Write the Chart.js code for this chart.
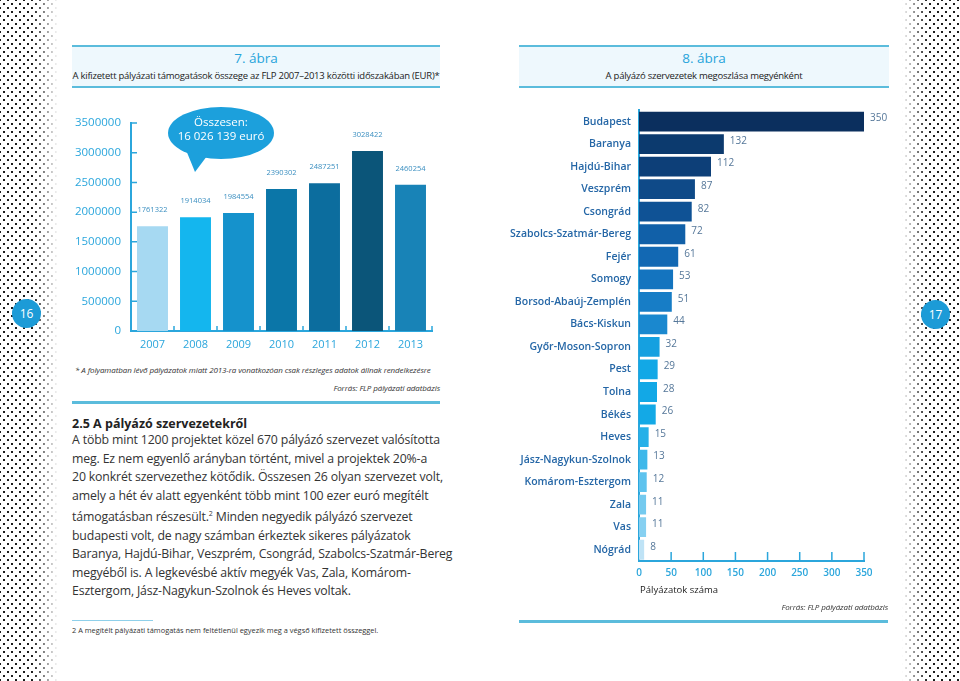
<!DOCTYPE html>
<html lang="hu">
<head>
<meta charset="utf-8">
<title>7. és 8. ábra</title>
<script src="https://cdn.jsdelivr.net/npm/chart.js@4.4.1/dist/chart.umd.min.js"></script>
<style>
  body { margin: 0; width: 960px; height: 681px; position: relative; overflow: hidden; background: #fff; font-family: 'Open Sans', sans-serif; color: #222; }
  .pottyok { position: absolute; top: 0; height: 681px; width: 58px;
    background-image: radial-gradient(circle, #1b1b1b 0.9px, transparent 1.3px), radial-gradient(circle, #1b1b1b 0.9px, transparent 1.3px);
    background-size: 8px 8px; background-position: 0 0, 4px 4px; }
  .pottyok.bal { left: 0; -webkit-mask-image: linear-gradient(to right, #000 55%, transparent 100%); mask-image: linear-gradient(to right, #000 55%, transparent 100%); }
  .pottyok.jobb { right: 0; -webkit-mask-image: linear-gradient(to left, #000 55%, transparent 100%); mask-image: linear-gradient(to left, #000 55%, transparent 100%); }
  .oldalszam { position: absolute; width: 29px; height: 29px; border-radius: 50%; background: #1c9bd7; color: #fff; font-size: 12px; line-height: 29px; text-align: center; }
  .fejlec { position: absolute; height: 39px; background: #eef8fd; border-top: 2.5px solid #5bbcdc; border-bottom: 2.5px solid #5bbcdc; text-align: center; }
  .fejlec .abra { color: #27a4db; font-size: 13.5px; line-height: 16px; margin-top: 3px; }
  .fejlec .alcim { font-size: 9.5px; line-height: 13px; margin-top: 3px; white-space: nowrap; letter-spacing: -0.25px; }
  .doboz { position: absolute; }
  .kisdolt { position: absolute; font-style: italic; font-size: 8px; color: #333; white-space: nowrap; letter-spacing: -0.1px; }
  .vonal { position: absolute; height: 2.5px; background: #5bbcdc; }
  .cimsor { position: absolute; left: 72px; top: 415px; font-weight: bold; font-size: 12.5px; white-space: nowrap; }
  .szoveg { position: absolute; left: 72px; top: 431px; font-size: 12.3px; line-height: 18.5px; color: #333; white-space: nowrap; letter-spacing: -0.15px; }
  .labjegyzet { position: absolute; left: 72px; top: 625px; font-size: 7.4px; color: #333; white-space: nowrap; }
</style>
</head>
<body>
<div class="pottyok bal"></div>
<div class="pottyok jobb"></div>
<div class="oldalszam" style="left:12px;top:299px">16</div>
<div class="oldalszam" style="left:921px;top:300px">17</div>

<div class="fejlec" style="left:72px;top:45px;width:368px">
  <div class="abra">7. ábra</div>
  <div class="alcim">A kifizetett pályázati támogatások összege az FLP 2007–2013 közötti időszakában (EUR)*</div>
</div>
<div class="fejlec" style="left:519px;top:45px;width:370px">
  <div class="abra">8. ábra</div>
  <div class="alcim">A pályázó szervezetek megoszlása megyénként</div>
</div>

<div class="doboz" style="left:60px;top:100px;width:390px;height:262px"><canvas id="grafikEvek"></canvas></div>
<svg style="position:absolute;left:160px;top:104px" width="120" height="72">
  <ellipse cx="61" cy="29" rx="53" ry="26" fill="#1ca0dc"/>
  <path d="M26 46 L35 68 L47 52 Z" fill="#1ca0dc"/>
  <text x="61" y="22" fill="#fff" font-family="Open Sans, sans-serif" font-size="11.5" text-anchor="middle">Összesen:</text>
  <text x="61" y="36" fill="#fff" font-family="Open Sans, sans-serif" font-size="11.5" text-anchor="middle">16 026 139 euró</text>
</svg>

<div class="kisdolt" style="left:75px;top:364px">* A folyamatban lévő pályázatok miatt 2013-ra vonatkozóan csak részleges adatok állnak rendelkezésre</div>
<div class="kisdolt" style="right:520px;top:382px">Forrás: FLP pályázati adatbázis</div>
<div class="vonal" style="left:72px;top:401px;width:368px"></div>

<div class="cimsor">2.5 A pályázó szervezetekről</div>
<div class="szoveg">A több mint 1200 projektet közel 670 pályázó szervezet valósította<br>meg. Ez nem egyenlő arányban történt, mivel a projektek 20%-a<br>20 konkrét szervezethez kötődik. Összesen 26 olyan szervezet volt,<br>amely a hét év alatt egyenként több mint 100 ezer euró megítélt<br>támogatásban részesült.<sup style="font-size:7px">2</sup> Minden negyedik pályázó szervezet<br>budapesti volt, de nagy számban érkeztek sikeres pályázatok<br>Baranya, Hajdú-Bihar, Veszprém, Csongrád, Szabolcs-Szatmár-Bereg<br>megyéből is. A legkevésbé aktív megyék Vas, Zala, Komárom-<br>Esztergom, Jász-Nagykun-Szolnok és Heves voltak.</div>
<div style="position:absolute;left:72px;top:620px;width:81px;height:1px;background:#8fd0ea"></div>
<div class="labjegyzet">2 A megítélt pályázati támogatás nem feltétlenül egyezik meg a végső kifizetett összeggel.</div>

<div class="doboz" style="left:510px;top:96px;width:392px;height:500px"><canvas id="grafikMegyek"></canvas></div>
<div style="position:absolute;left:640px;top:583px;font-size:9.5px;color:#222">Pályázatok száma</div>
<div class="kisdolt" style="right:72px;top:601px">Forrás: FLP pályázati adatbázis</div>
<div class="vonal" style="left:519px;top:620px;width:369px"></div>

<script>
// 7. ábra adatai
const evek = ['2007', '2008', '2009', '2010', '2011', '2012', '2013'];
const kifizetesek = [1761322, 1914034, 1984554, 2390302, 2487251, 3028422, 2460254];
const evSzinek = ['#a6d9f2', '#14b6ee', '#1592cc', '#0b76a8', '#0c6d9e', '#0b5579', '#1883b7'];
const evTengelyMax = 3500000;
const evTengelyLepes = 500000;

// 8. ábra adatai
const megyek = ['Budapest', 'Baranya', 'Hajdú-Bihar', 'Veszprém', 'Csongrád', 'Szabolcs-Szatmár-Bereg',
  'Fejér', 'Somogy', 'Borsod-Abaúj-Zemplén', 'Bács-Kiskun', 'Győr-Moson-Sopron', 'Pest', 'Tolna',
  'Békés', 'Heves', 'Jász-Nagykun-Szolnok', 'Komárom-Esztergom', 'Zala', 'Vas', 'Nógrád'];
const palyazatokSzama = [350, 132, 112, 87, 82, 72, 61, 53, 51, 44, 32, 29, 28, 26, 15, 13, 12, 11, 11, 8];
const megyeSzinek = ['#0b2f5e', '#0c3a6e', '#0d3f78', '#0f4a88', '#0f5295', '#1160a8', '#1268b3', '#1474bf',
  '#177dc6', '#1a88cf', '#15a0e0', '#12a8e6', '#12a8e6', '#13a9e6', '#26b0e8', '#3db8ea', '#5ec3ee',
  '#74caef', '#86d0f1', '#bfe3f6'];
const megyeTengelyMax = 350;
const megyeTengelyLepes = 50;

const tengelySzin = '#2ba6dc';
Chart.defaults.font.family = "'Open Sans', sans-serif";
Chart.defaults.animation = false;

// értékek kiírása az oszlopok mellé / fölé
const ertekCimkek = {
  id: 'ertekCimkek',
  afterDatasetsDraw(chart, args, opts) {
    const ctx = chart.ctx;
    const adatok = chart.data.datasets[0].data;
    ctx.save();
    ctx.font = opts.font;
    ctx.fillStyle = opts.color;
    ctx.textBaseline = 'middle';
    chart.getDatasetMeta(0).data.forEach((oszlop, i) => {
      if (opts.vizszintes) {
        ctx.textAlign = 'left';
        ctx.fillText(adatok[i], oszlop.x + 6, oszlop.y - 3);
      } else {
        ctx.textAlign = 'center';
        ctx.fillText(adatok[i], oszlop.x, oszlop.y - 16);
      }
    });
    ctx.restore();
  }
};

// befelé mutató kis osztásjelek a tengelyeken
const osztasJelek = {
  id: 'osztasJelek',
  afterDraw(chart, args, opts) {
    const ctx = chart.ctx;
    const { x, y } = chart.scales;
    ctx.save();
    ctx.strokeStyle = tengelySzin;
    ctx.lineWidth = 1.5;
    ctx.beginPath();
    if (opts.tipus === 'oszlop') {
      y.ticks.forEach(t => {
        const py = y.getPixelForValue(t.value);
        ctx.moveTo(x.left, py);
        ctx.lineTo(x.left + 6, py);
      });
      for (let i = 1; i <= evek.length; i++) {
        const px = x.getPixelForValue(i - 0.5);
        ctx.moveTo(px, x.top);
        ctx.lineTo(px, x.top - 5);
      }
    } else {
      x.ticks.forEach(t => {
        if (t.value === 0) return;
        const px = x.getPixelForValue(t.value);
        ctx.moveTo(px, y.bottom);
        ctx.lineTo(px, y.bottom - 9);
      });
    }
    ctx.stroke();
    ctx.restore();
  }
};

new Chart(document.getElementById('grafikEvek'), {
  type: 'bar',
  data: {
    labels: evek,
    datasets: [{
      data: kifizetesek,
      backgroundColor: evSzinek,
      barPercentage: 0.72,
      categoryPercentage: 1
    }]
  },
  options: {
    responsive: true,
    maintainAspectRatio: false,
    layout: { padding: { top: 23, right: 18, bottom: 0, left: 0 } },
    scales: {
      x: {
        grid: { display: false, drawTicks: false },
        border: { color: tengelySzin, width: 2 },
        ticks: { color: tengelySzin, font: { size: 11 }, padding: 7 },
        afterFit: s => { s.height = 31; }
      },
      y: {
        min: 0,
        max: evTengelyMax,
        grid: { display: false, drawTicks: false },
        border: { color: tengelySzin, width: 2 },
        ticks: { stepSize: evTengelyLepes, color: tengelySzin, font: { size: 11.5 }, padding: 10, callback: v => String(v) },
        afterFit: s => { s.width = 71; }
      }
    },
    plugins: {
      legend: { display: false },
      tooltip: { enabled: false },
      ertekCimkek: { font: "7.5px 'Open Sans', sans-serif", color: '#3b8fc0', vizszintes: false },
      osztasJelek: { tipus: 'oszlop' }
    }
  },
  plugins: [ertekCimkek, osztasJelek]
});

new Chart(document.getElementById('grafikMegyek'), {
  type: 'bar',
  data: {
    labels: megyek,
    datasets: [{
      data: palyazatokSzama,
      backgroundColor: megyeSzinek,
      barPercentage: 0.88,
      categoryPercentage: 1
    }]
  },
  options: {
    indexAxis: 'y',
    responsive: true,
    maintainAspectRatio: false,
    layout: { padding: { top: 12, right: 38, bottom: 0, left: 0 } },
    scales: {
      x: {
        min: 0,
        max: megyeTengelyMax,
        grid: { display: false, drawTicks: false },
        border: { color: tengelySzin, width: 2 },
        ticks: { stepSize: megyeTengelyLepes, color: tengelySzin, font: { size: 10, weight: '600' }, padding: 6, callback: v => String(v) },
        afterFit: s => { s.height = 35; }
      },
      y: {
        grid: { display: false, drawTicks: false },
        border: { color: tengelySzin, width: 2 },
        ticks: { autoSkip: false, color: '#2466a6', font: { size: 10.5, weight: '600' }, padding: 8 },
        afterFit: s => { s.width = 129; }
      }
    },
    plugins: {
      legend: { display: false },
      tooltip: { enabled: false },
      ertekCimkek: { font: "10px 'Open Sans', sans-serif", color: '#557799', vizszintes: true },
      osztasJelek: { tipus: 'sav' }
    }
  },
  plugins: [ertekCimkek, osztasJelek]
});
</script>
</body>
</html>
